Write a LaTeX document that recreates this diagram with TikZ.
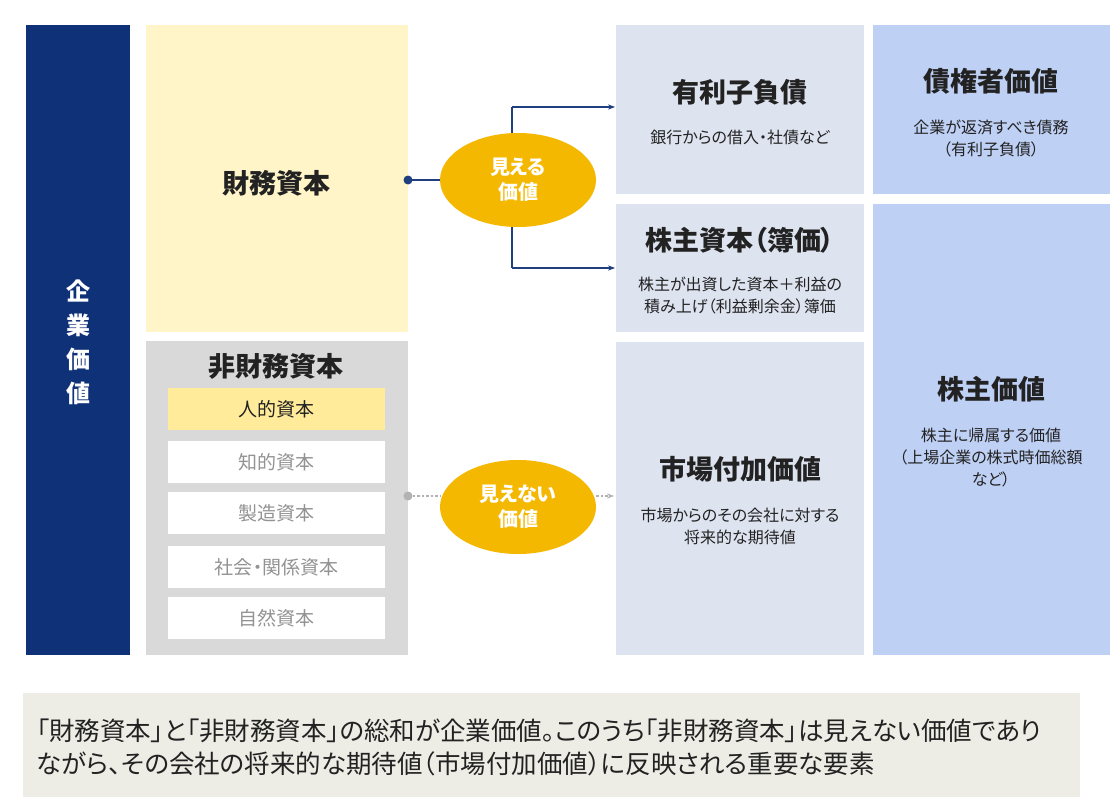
\documentclass[tikz,border=0pt]{standalone}
\usepackage{fontspec}
\setmainfont{Noto Sans CJK JP}[RawFeature=+palt]
\usetikzlibrary{arrows.meta,shapes.geometric}
\definecolor{navy}{HTML}{0F3178}
\definecolor{ylw}{HTML}{FFF5C8}
\definecolor{ylw2}{HTML}{FFEB99}
\definecolor{gry}{HTML}{D9D9D9}
\definecolor{lb}{HTML}{DEE3F0}
\definecolor{bl}{HTML}{BFD0F5}
\definecolor{org}{HTML}{F5B800}
\definecolor{note}{HTML}{EDEDE6}
\definecolor{txt}{HTML}{222222}
\definecolor{line}{HTML}{1F3F7F}
\tikzset{
 ttl/.style={font=\fontsize{27}{32}\selectfont\bfseries,text=txt},
 sub/.style={font=\fontsize{16}{22}\selectfont,text=txt,align=center},
 small/.style={fill=white,minimum width=217pt,minimum height=42pt,inner sep=0,font=\fontsize{19}{22}\selectfont,text=gray!85},
 oval/.style={ellipse,fill=org,minimum width=156pt,minimum height=94pt,inner sep=0,text=white,font=\fontsize{20}{25}\selectfont\bfseries,align=center},
}
\begin{document}
\begin{tikzpicture}[x=1pt,y=-1pt]
\useasboundingbox (0,0) rectangle (1117,808);
\fill[white] (0,0) rectangle (1117,808);
\fill[navy] (26,25) rectangle (130,655);
\node[text=white,font=\fontsize{24}{34}\selectfont\bfseries,align=center] (kv) at (78,342) {企\\業\\価\\値};
\fill[ylw] (146,25) rectangle (408,332);
\node[ttl] (fc) at (276,183) {財務資本};
\fill[gry] (146,341) rectangle (408,655);
\node[ttl] (nfc) at (276,366) {非財務資本};
\node[small,fill=ylw2,text=txt] (h) at (276.5,409) {人的資本};
\node[small] (c1) at (276.5,462) {知的資本};
\node[small] (c2) at (276.5,513) {製造資本};
\node[small] (c3) at (276.5,567) {社会・関係資本};
\node[small] (c4) at (276.5,618) {自然資本};
\fill[lb] (616,25) rectangle (864,194);
\fill[lb] (616,204) rectangle (864,332);
\fill[lb] (616,342) rectangle (864,655);
\fill[bl] (873,25) rectangle (1110,194);
\fill[bl] (873,204) rectangle (1110,655);
\node[ttl] (d) at (740,92) {有利子負債};
\node[sub] (ds) at (740,137) {銀行からの借入・社債など};
\node[ttl] (e) at (740,240) {株主資本（簿価）};
\node[sub] (es) at (740,295) {株主が出資した資本＋利益の\\積み上げ（利益剰余金）簿価};
\node[ttl] (m) at (740,469) {市場付加価値};
\node[sub] (ms) at (740,526) {市場からのその会社に対する\\将来的な期待値};
\node[ttl] (cv) at (991,81) {債権者価値};
\node[sub] (cvs) at (991,138) {企業が返済すべき債務\\（有利子負債）};
\node[ttl] (sv) at (991,389) {株主価値};
\node[sub] (svs) at (991,458) {株主に帰属する価値\\（上場企業の株式時価総額\\など）};
\coordinate (b1) at (512,107); \coordinate (b2) at (512,268);
\coordinate (t1) at (615,107); \coordinate (t2) at (615,268);
\draw[line,line width=1.3pt] (b1)--(b2);
\draw[line,line width=1.3pt,-{Stealth[length=7pt]}] (b1)--(t1);
\draw[line,line width=1.3pt,-{Stealth[length=7pt]}] (b2)--(t2);
\node[oval] (v) at (518,180) {見える\\価値};
\node[oval] (iv) at (518,507) {見えない\\価値};
\coordinate (fd) at (408,180);
\fill[line] (fd) circle (4.5);
\draw[line,line width=1.3pt] (fd)--(v.west);
\coordinate (gd) at (408,496);
\fill[gray!60] (gd) circle (4.5);
\draw[gray!60,line width=2.5pt,dotted] (gd)--(iv.west|-gd);
\coordinate (gt) at (614,496);
\draw[gray!60,line width=2.5pt,dotted,-{Stealth[length=7pt]}] (iv.east|-gd)--(gt);
\fill[note] (23,693) rectangle (1080,797);
\node[anchor=west,font=\fontsize{25.5}{33}\selectfont,text=txt,align=left] (n) at (33,747) {「財務資本」と「非財務資本」の総和が企業価値。このうち「非財務資本」は見えない価値であり\\ながら、その会社の将来的な期待値（市場付加価値）に反映される重要な要素};
\end{tikzpicture}
\end{document}
